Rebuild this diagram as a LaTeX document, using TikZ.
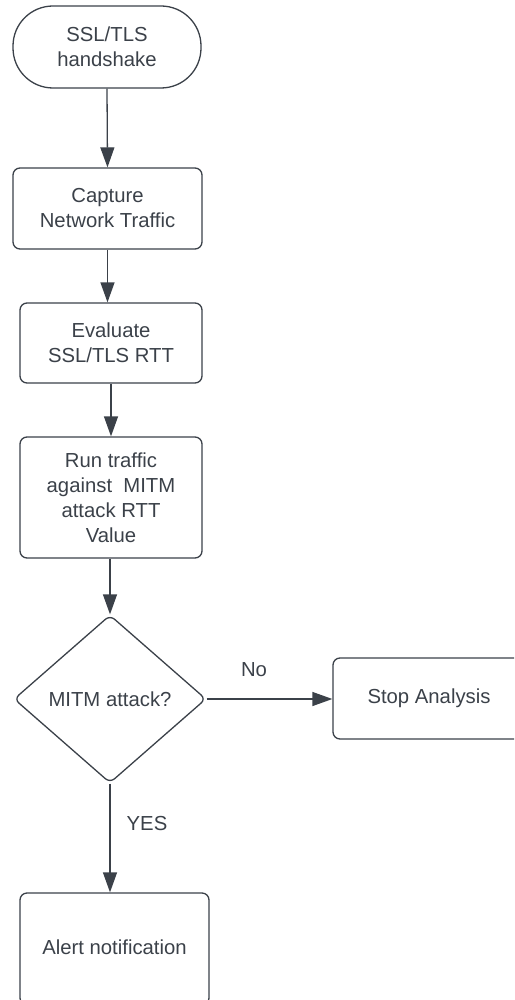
\documentclass[tikz,border=0pt]{standalone}
\usepackage{fontspec}
\setmainfont{Liberation Sans}
\usetikzlibrary{arrows.meta,shapes.geometric}
\definecolor{ink}{HTML}{3B4149}
\tikzset{
  x=1pt, y=-1pt,
  every node/.style={text=ink, font=\fontsize{20.3}{25}\selectfont, align=center, inner sep=0pt},
  procbox/.style={draw=ink, line width=1.3pt, rounded corners=7pt},
  termbox/.style={draw=ink, line width=1.3pt, rounded corners=40pt},
  decbox/.style={draw=ink, line width=1.3pt, shape=diamond, rounded corners=6pt},
  flow/.style={draw=ink, line width=1.3pt, -{Triangle[length=20pt,width=14pt]}},
  lbl/.style={text=ink}
}
\begin{document}
\begin{tikzpicture}
\useasboundingbox (0,0) rectangle (514,1000);
\clip (0,0) rectangle (514,1000);
% flowchart steps
\node[termbox, minimum width=188pt, minimum height=82pt] (start) at (107,47) {SSL/TLS\\handshake};
\node[procbox, minimum width=189pt, minimum height=81pt] (capture) at (107.5,208.5) {Capture\\Network Traffic};
\node[procbox, minimum width=182pt, minimum height=80pt] (eval) at (111,343) {Evaluate\\SSL/TLS RTT};
\node[procbox, minimum width=182pt, minimum height=121pt] (run) at (111,497.5) {Run traffic\\against\ \ MITM\\attack RTT\\Value};
\node[decbox, minimum width=192pt, minimum height=168pt] (mitm) at (110,699) {MITM attack?};
\node[procbox, minimum width=192pt, minimum height=81pt] (stop) at (429,698.5) {Stop Analysis};
\node[procbox, minimum width=189pt, minimum height=112pt] (alert) at (114.5,949) {\raisebox{3pt}{Alert notification}};
% branch labels
\node[lbl] (no) at (254,670) {No};
\node[lbl] (yes) at (147,824) {YES};
% connectors
\draw[flow] (start.south) -- (capture.north);
\draw[flow] (capture.south) -- (capture.south |- eval.north);
\draw[flow] (eval.south) -- (run.north);
\draw[flow] (run.south -| mitm.north) -- (mitm.north);
\draw[flow] (mitm.east) -- (mitm.east -| stop.west);
\draw[flow] (mitm.south) -- (mitm.south |- alert.north);
\end{tikzpicture}
\end{document}
